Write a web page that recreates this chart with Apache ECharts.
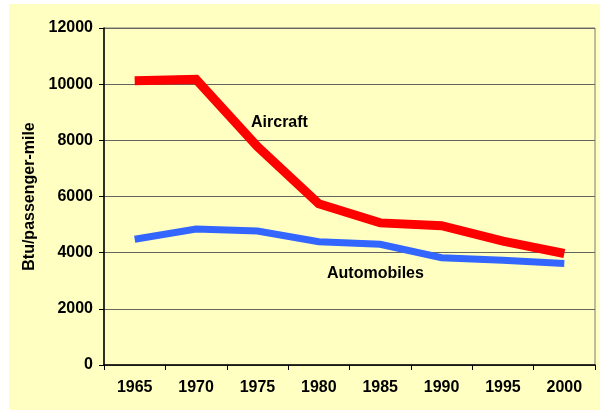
<!DOCTYPE html>
<html>
<head>
<meta charset="utf-8">
<script src="https://cdn.jsdelivr.net/npm/echarts@6/dist/echarts.min.js"></script>
<style>
  body { margin: 0; background: #ffffff; }
  #wrap { position: relative; width: 600px; height: 410px; background: #ffffff; }
  #myChart { position: absolute; left: 9px; top: 4px; width: 591px; height: 406px; background: #ffffc2; }
</style>
</head>
<body>
<div id="wrap"><div id="myChart"></div></div>
<script>
  // data
  var years = ['1965', '1970', '1975', '1980', '1985', '1990', '1995', '2000'];
  var aircraft = [10120, 10170, 7780, 5740, 5060, 4960, 4410, 3970];
  var automobiles = [4480, 4840, 4770, 4390, 4300, 3820, 3730, 3610];
  var yTicks = [0, 2000, 4000, 6000, 8000, 10000, 12000];

  var font = 'Liberation Sans, Arial, sans-serif';
  var myChart = echarts.init(document.getElementById('myChart'));
  myChart.setOption({
    animation: false,
    grid: {
      left: 95, top: 24, right: 5, bottom: 45,
      show: true, borderColor: '#7a7a7a', borderWidth: 1
    },
    xAxis: {
      type: 'category',
      data: years,
      boundaryGap: true,
      axisLine: { lineStyle: { color: '#000', width: 1.5 } },
      axisTick: { show: true, inside: false, length: 5, lineStyle: { color: '#000' } },
      axisLabel: { color: '#000', fontFamily: font, fontWeight: 'bold', fontSize: 16, margin: 15 }
    },
    yAxis: {
      type: 'value',
      min: yTicks[0],
      max: yTicks[yTicks.length - 1],
      interval: 2000,
      name: 'Btu/passenger-mile',
      nameLocation: 'middle',
      nameGap: 66,
      nameTextStyle: { color: '#000', fontFamily: font, fontWeight: 'bold', fontSize: 16 },
      axisLine: { show: true, lineStyle: { color: '#000', width: 1.5 } },
      axisTick: { show: true, length: 5, lineStyle: { color: '#000' } },
      axisLabel: {
        color: '#000', fontFamily: font, fontWeight: 'bold', fontSize: 16, margin: 11,
        formatter: function (v) { return String(v); }
      },
      splitLine: { show: true, lineStyle: { color: '#666660', width: 1.2 } }
    },
    graphic: [
      {
        type: 'text', left: 242, top: 111,
        style: { text: 'Aircraft', fill: '#000', font: 'bold 16px ' + font }
      },
      {
        type: 'text', left: 318, top: 262,
        style: { text: 'Automobiles', fill: '#000', font: 'bold 16px ' + font }
      }
    ],
    series: [
      {
        name: 'Aircraft',
        type: 'line',
        data: aircraft,
        symbol: 'none',
        lineStyle: { color: '#ff0000', width: 9, cap: 'butt', join: 'miter' },
        z: 3
      },
      {
        name: 'Automobiles',
        type: 'line',
        data: automobiles,
        symbol: 'none',
        lineStyle: { color: '#3366ff', width: 7, cap: 'butt', join: 'miter' },
        z: 2
      }
    ]
  });
</script>
</body>
</html>
